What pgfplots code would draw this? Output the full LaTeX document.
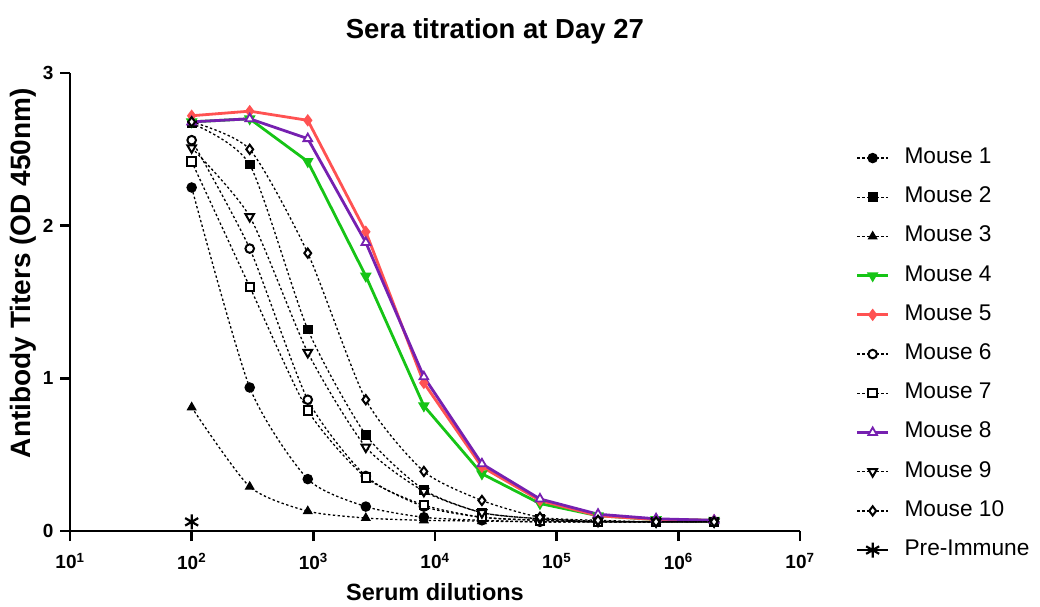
\documentclass[border=0pt]{standalone}
\usepackage{pgfplots}
\pgfplotsset{compat=1.18}
\usepackage{fontspec}
\setmainfont{Liberation Sans}

\definecolor{mgreen}{RGB}{22,196,22}
\definecolor{mred}{RGB}{255,82,82}
\definecolor{mpurple}{RGB}{118,32,176}

\pgfplotsset{
  blk/.style={black, line width=1.3pt, dash pattern=on 2.4pt off 2.4pt, smooth, tension=0.4, mark size=4.6pt},
  col/.style={line width=2.8pt, mark size=4pt},
}

\begin{document}
\begin{tikzpicture}
  \begin{axis}[
    scale only axis,
    width=730pt, height=458pt,
    xmode=log, log basis x={10},
    xmin=10, xmax=10000000,
    ymin=0, ymax=3,
    axis lines=left,
    axis line style={-, line width=2.6pt},
    tick style={line width=2.6pt, black},
    tick align=outside,
    major tick length=10pt,
    minor tick num=0,
    xtick={10,100,1000,10000,100000,1000000,10000000},
    xticklabels={10\textsuperscript{1},10\textsuperscript{2},10\textsuperscript{3},10\textsuperscript{4},10\textsuperscript{5},10\textsuperscript{6},10\textsuperscript{7}},
    ytick={0,1,2,3},
    yticklabels={0,1,2,3},
    ticklabel style={font=\fontsize{19}{22}\selectfont\bfseries},
    xticklabel style={yshift=-9pt},
    yticklabel style={xshift=-3pt},
    title={Sera titration at Day 27},
    title style={font=\fontsize{27.5}{32}\selectfont\bfseries, at={(axis description cs:0.582,1)}, anchor=center, yshift=36pt},
    xlabel={Serum dilutions},
    xlabel style={font=\fontsize{23.5}{28}\selectfont\bfseries, at={(axis description cs:0.5,0)}, anchor=center, yshift=-61pt},
    ylabel={Antibody Titers (OD 450nm)},
    ylabel style={font=\fontsize{28}{32}\selectfont\bfseries, at={(axis description cs:-0.0644,0.563)}, anchor=center},
    clip=false,
    legend cell align=left,
    legend style={at={(1.072,0.842)}, anchor=north west, draw=none, fill=none,
      font=\fontsize{22.7}{26}\selectfont, row sep=18.2pt, column sep=15pt,
      nodes={inner sep=0pt, text height=16pt, text depth=5pt}},
    legend image code/.code={\draw[mark repeat=2, mark phase=2, #1] plot coordinates {(0pt,0pt)(15.5pt,0pt)(31pt,0pt)};},
  ]
  % Mouse 1
  \addplot[blk, mark=*, mark options={solid}] coordinates {
    (100,2.25) (300,0.94) (900,0.34) (2700,0.16) (8100,0.09)
    (24300,0.07) (72900,0.06) (218700,0.06) (656100,0.06) (1968300,0.06)};
  % Mouse 2
  \addplot[blk, mark=square*, mark size=4.2pt, mark options={solid}] coordinates {
    (100,2.67) (300,2.40) (900,1.32) (2700,0.63) (8100,0.27)
    (24300,0.12) (72900,0.08) (218700,0.06) (656100,0.06) (1968300,0.06)};
  % Mouse 3
  \addplot[blk, mark=triangle*, mark size=4.6pt, mark options={solid}] coordinates {
    (100,0.81) (300,0.29) (900,0.13) (2700,0.085) (8100,0.07)
    (24300,0.065) (72900,0.06) (218700,0.06) (656100,0.06) (1968300,0.06)};
  % Mouse 4
  \addplot[col, mgreen, mark=triangle*, mark options={solid, rotate=180}] coordinates {
    (100,2.68) (300,2.70) (900,2.42) (2700,1.67) (8100,0.82)
    (24300,0.375) (72900,0.18) (218700,0.10) (656100,0.075) (1968300,0.07)};
  % Mouse 5
  \addplot[col, mred, mark=diamond*, mark size=4pt, mark options={solid}] coordinates {
    (100,2.72) (300,2.75) (900,2.69) (2700,1.96) (8100,0.97)
    (24300,0.42) (72900,0.20) (218700,0.10) (656100,0.075) (1968300,0.07)};
  % Mouse 6
  \addplot[blk, mark=*, mark size=4.3pt, mark options={solid, fill=white, line width=2pt}] coordinates {
    (100,2.56) (300,1.85) (900,0.86) (2700,0.36) (8100,0.16)
    (24300,0.09) (72900,0.07) (218700,0.06) (656100,0.06) (1968300,0.06)};
  % Mouse 7
  \addplot[blk, mark=square*, mark size=4.2pt, mark options={solid, fill=white, line width=2pt}] coordinates {
    (100,2.42) (300,1.60) (900,0.79) (2700,0.35) (8100,0.17)
    (24300,0.09) (72900,0.07) (218700,0.06) (656100,0.06) (1968300,0.06)};
  % Mouse 8
  \addplot[col, mpurple, mark=triangle*, mark size=5pt, mark options={solid, fill=white, line width=1.8pt}] coordinates {
    (100,2.68) (300,2.70) (900,2.57) (2700,1.89) (8100,1.01)
    (24300,0.44) (72900,0.21) (218700,0.11) (656100,0.08) (1968300,0.07)};
  % Mouse 9
  \addplot[blk, mark=triangle*, mark size=5pt, mark options={solid, fill=white, rotate=180, line width=2pt}] coordinates {
    (100,2.51) (300,2.06) (900,1.17) (2700,0.55) (8100,0.26)
    (24300,0.12) (72900,0.08) (218700,0.065) (656100,0.06) (1968300,0.06)};
  % Mouse 10
  \addplot[blk, mark=diamond*, mark size=4.6pt, mark options={solid, fill=white, line width=2pt}] coordinates {
    (100,2.68) (300,2.50) (900,1.82) (2700,0.86) (8100,0.39)
    (24300,0.20) (72900,0.09) (218700,0.07) (656100,0.06) (1968300,0.06)};
  % Pre-Immune
  \addplot[black, line width=2.8pt, mark=asterisk, mark size=7.5pt, mark options={solid, line width=2.2pt}] coordinates {
    (100,0.06)};
  \legend{Mouse 1, Mouse 2, Mouse 3, Mouse 4, Mouse 5, Mouse 6, Mouse 7, Mouse 8, Mouse 9, Mouse 10, Pre-Immune}
  \end{axis}
  \pgfresetboundingbox
  \path[use as bounding box] (-70pt,-75pt) rectangle (970pt,531pt);
\end{tikzpicture}
\end{document}
